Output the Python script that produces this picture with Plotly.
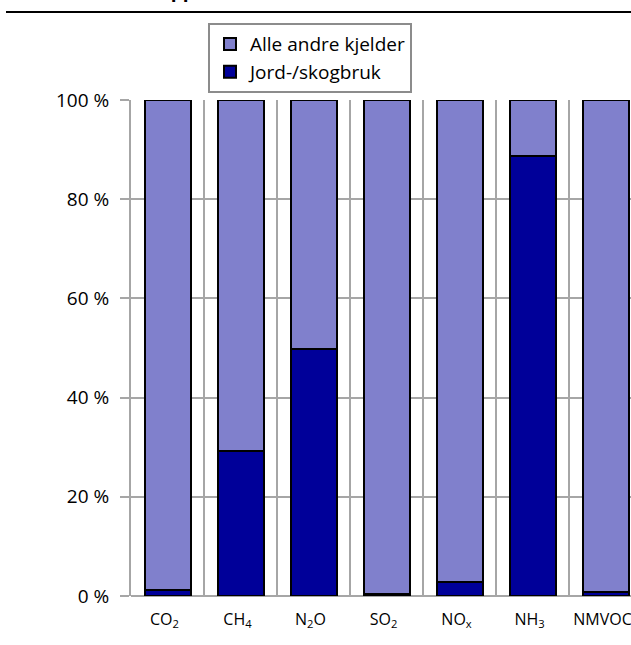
import plotly.graph_objects as go

# Share of national emissions by component (%)
components = ["CO<sub>2</sub>", "CH<sub>4</sub>", "N<sub>2</sub>O", "SO<sub>2</sub>",
              "NO<sub>x</sub>", "NH<sub>3</sub>", "NMVOC"]
jord_skogbruk = [1.2, 29.3, 49.9, 0.5, 2.8, 88.7, 0.9]
alle_andre = [round(100 - v, 1) for v in jord_skogbruk]
y_ticks = [0, 20, 40, 60, 80, 100]
y_ticktext = [f"{v} %" for v in y_ticks]

FONT = "Open Sans"
FS = 19
GRID = "#A6A6A6"

fig = go.Figure()
fig.add_trace(go.Bar(
    x=components, y=jord_skogbruk, name="Jord-/skogbruk",
    marker=dict(color="#000099", line=dict(color="black", width=2)),
    width=0.63, legendgroup="b",
))
fig.add_trace(go.Bar(
    x=components, y=alle_andre, name="Alle andre kjelder",
    marker=dict(color="#8080CC", line=dict(color="black", width=2)),
    width=0.63, legendgroup="a",
))

fig.update_layout(
    width=631, height=645,
    margin=dict(l=131, r=0, t=100, b=49),
    barmode="stack",
    plot_bgcolor="white", paper_bgcolor="white",
    font=dict(family=FONT, size=FS, color="black"),
    showlegend=True,
    legend=dict(
        x=0.154, y=1.155, xanchor="left", yanchor="top",
        bgcolor="white", bordercolor="#8C8C8C", borderwidth=2,
        traceorder="reversed", tracegroupgap=3,
        font=dict(family=FONT, size=FS, color="black"),
    ),
    xaxis=dict(
        type="category",
        range=[-0.5, 6.349],
        tickson="boundaries",
        showgrid=True, gridcolor=GRID, gridwidth=2,
        zeroline=False, showline=False,
        ticks="", tickfont=dict(size=16), tickangle=0,
        ticklabelstandoff=12, ticklabeloverflow="allow",
        ticklabelshift=-3,
        automargin=False,
    ),
    yaxis=dict(
        range=[0, 100],
        tickvals=y_ticks, ticktext=y_ticktext,
        showgrid=True, gridcolor=GRID, gridwidth=2,
        zeroline=True, zerolinecolor=GRID, zerolinewidth=2,
        showline=True, linecolor=GRID, linewidth=2,
        ticks="outside", ticklen=9, tickcolor=GRID, tickwidth=2,
        tickfont=dict(size=FS), ticklabelstandoff=7,
        automargin=False,
    ),
    shapes=[dict(type="line", xref="paper", yref="paper",
                 x0=-0.25, x1=1.0, y0=1.1774, y1=1.1774,
                 line=dict(color="black", width=2))],
    annotations=[dict(text="<b>Utslipp</b>", xref="paper", yref="paper",
                      x=0.132, y=1.1925, xanchor="right", yanchor="bottom",
                      showarrow=False, font=dict(family=FONT, size=FS))],
)

fig.write_html("out.html")
